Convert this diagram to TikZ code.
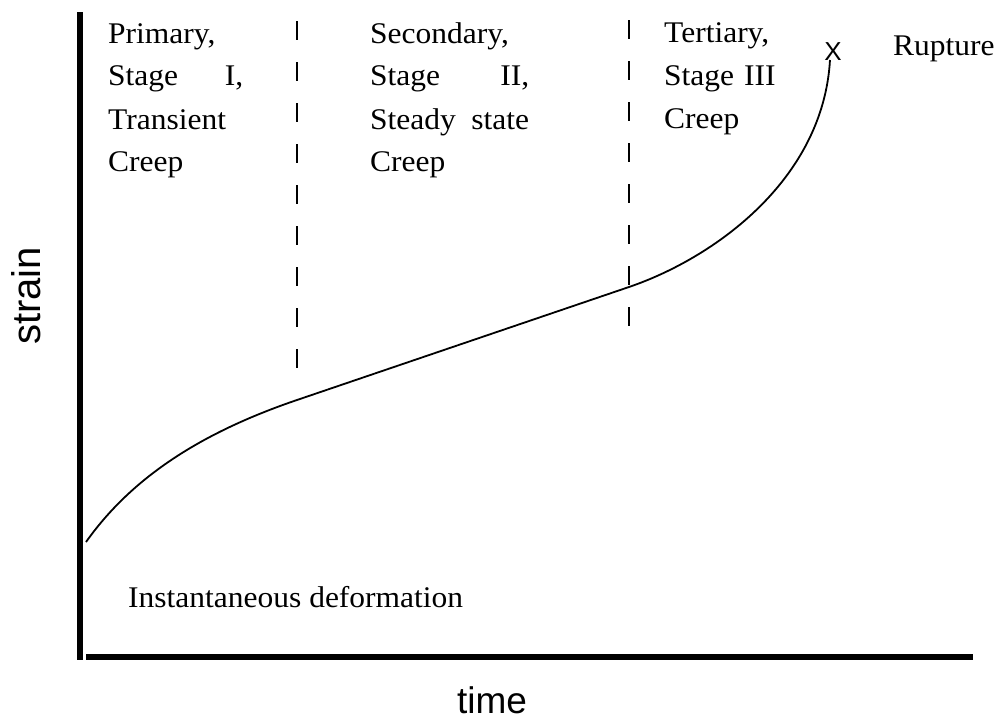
\documentclass[tikz,border=0pt]{standalone}
\usepackage{fontspec}
\setmainfont{Liberation Serif}[FakeStretch=1.05]
\newfontfamily\axisfont{Liberation Sans}
\tikzset{
    stagetext/.style={anchor=base west,inner sep=0pt,align=left,font=\fontsize{30}{43}\selectfont},
    divider/.style={line width=2pt,dash pattern=on 19pt off 22pt},
    axisline/.style={line width=6pt},
    axislabel/.style={inner sep=0pt,anchor=base,font=\axisfont\fontsize{#1}{#1}\selectfont}
}
\begin{document}
\begin{tikzpicture}[x=1pt,y=-1pt]
    \useasboundingbox (0,0) rectangle (1005,720);
    \coordinate (ytop) at (80,12);
    \coordinate (ybot) at (80,660);
    \coordinate (xleft) at (86,657);
    \coordinate (xright) at (973,657);
    \coordinate (d1top) at (297,21);
    \coordinate (d1bot) at (297,370);
    \coordinate (d2top) at (629,20);
    \coordinate (d2bot) at (629,327);
    \coordinate (c0) at (86,542);
    \coordinate (c1) at (297,400);
    \coordinate (c2) at (629,287);
    \coordinate (c3) at (830,60);
    \draw[axisline] (ytop) -- (ybot);
    \draw[axisline] (xleft) -- (xright);
    \draw[divider] (d1top) -- (d1bot);
    \draw[divider] (d2top) -- (d2bot);
    \draw[line width=1.8pt] (c0) .. controls (130,480) and (197,434) .. (c1)
        -- (c2) .. controls (714,258) and (823,180) .. (c3);
    \node[inner sep=0pt,font=\axisfont\fontsize{26}{26}\selectfont] (rupx) at (833,52) {X};
    \node[stagetext] (rupture) at (893,55) {Rupture};
    \node[stagetext,text width=135pt] (primary) at (108,43) {Primary,\\Stage\hfill I,\\Transient\\Creep};
    \node[stagetext,text width=159pt] (secondary) at (370,43) {Secondary,\\Stage\hfill II,\\Steady\hfill state\\Creep};
    \node[stagetext,text width=130pt] (tertiary) at (664,42) {Tertiary,\\Stage III\\Creep};
    \node[stagetext] (instant) at (128,607) {Instantaneous deformation};
    \node[axislabel=40,rotate=90] (strain) at (41,296) {strain};
    \node[axislabel=37] (time) at (492,713) {time};
\end{tikzpicture}
\end{document}
